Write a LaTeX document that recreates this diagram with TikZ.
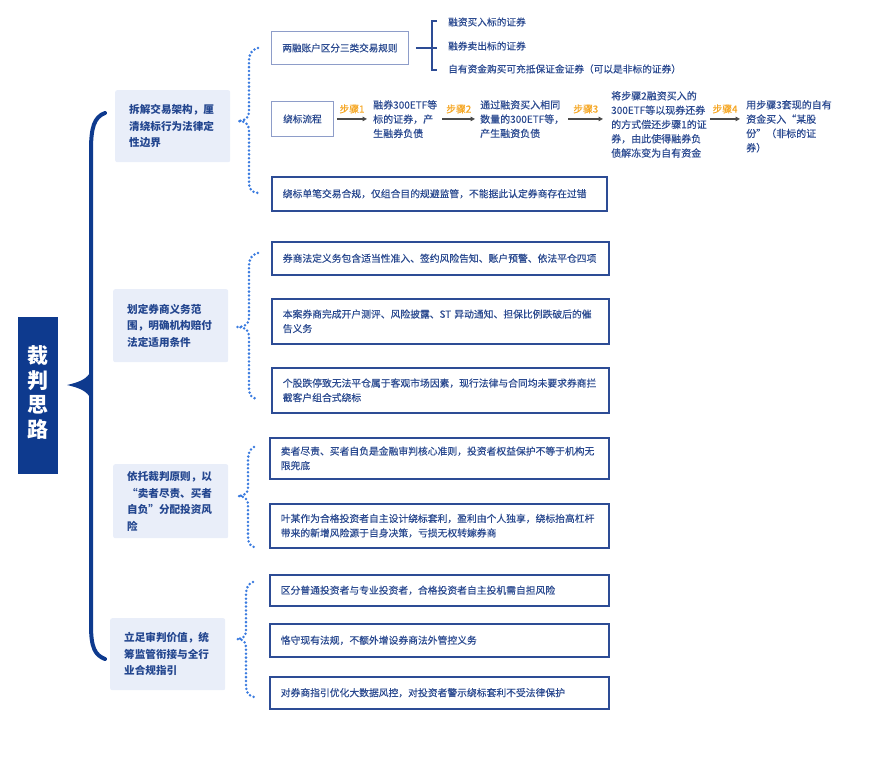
\documentclass[tikz,border=0pt]{standalone}
\usepackage{fontspec}
\setmainfont{Noto Sans CJK SC}
\newfontfamily\medfont{Noto Sans CJK SC}[FakeBold=0.35]
\usetikzlibrary{arrows.meta}
\definecolor{navy}{HTML}{0E3A8E}
\definecolor{lvlfill}{HTML}{E9EEF9}
\definecolor{lvltext}{HTML}{23468F}
\definecolor{boxline}{HTML}{2D4C95}
\definecolor{boxtext}{HTML}{2B4A90}
\definecolor{lightline}{HTML}{8E9DC9}
\definecolor{dotblue}{HTML}{3A7BDF}
\definecolor{steporange}{HTML}{F5A623}
\definecolor{arrowgray}{HTML}{4A4A4A}
\begin{document}
\begin{tikzpicture}[x=1pt,y=-1pt,
  rootbox/.style={fill=navy, text=white, font=\fontsize{21}{23}\selectfont\bfseries, align=center, minimum width=40, minimum height=157, inner sep=0},
  lvlone/.style={fill=lvlfill, rounded corners=2, text=lvltext, font=\fontsize{10.6}{16.5}\selectfont\bfseries, align=left, text width=87, minimum width=115, inner xsep=14, inner ysep=0, anchor=north west},
  darkbox/.style={draw=boxline, line width=1.6, fill=white, text=boxtext, font=\medfont\fontsize{9.8}{14.5}\selectfont, align=left, inner xsep=11, inner ysep=0, anchor=north west},
  lightbox/.style={draw=lightline, line width=0.9, fill=white, text=boxtext, font=\medfont\fontsize{9.6}{14}\selectfont, align=center, inner sep=0, anchor=north west},
  steptext/.style={text=boxtext, font=\medfont\fontsize{10}{14.3}\selectfont, align=left, inner sep=0, anchor=north west},
  itemtext/.style={text=boxtext, font=\medfont\fontsize{9.7}{12}\selectfont, inner sep=0, anchor=west},
  steparrow/.style={draw=arrowgray, line width=1.2, -{Triangle[length=4.5pt,width=4.5pt]}},
  steplabel/.style={text=steporange, font=\medfont\fontsize{9.8}{11}\selectfont, inner sep=2, above, yshift=3},
  bigbrace/.style={draw=navy, line width=4, line cap=round},
  dotbrace/.style={draw=dotblue, line width=2.8, line cap=round, dash pattern=on 0pt off 3.9pt},
  subbracket/.style={draw=boxline, line width=1.5}
]
\useasboundingbox (0,0) rectangle (874,760);

% root
\node[rootbox] (root) at (38,395) {\raisebox{5pt}{\begin{tabular}{@{}c@{}}裁\\判\\思\\路\end{tabular}}};

% big brace
\coordinate (tip) at (67,385);
\draw[bigbrace] (105,113) .. controls (94,117) and (91,128) .. (91,150) -- (91,625) .. controls (91,648) and (95,655) .. (105,659);
\fill[navy] (tip) .. controls (80,382) and (87,379) .. (91,371) -- (91,399) .. controls (87,391) and (80,388) .. (tip) -- cycle;

% level one
\node[lvlone, minimum height=72] (L1) at (115,90) {拆解交易架构，厘\\清绕标行为法律定\\性边界};
\node[lvlone, minimum height=73] (L2) at (113,289) {划定券商义务范\\围，明确机构赔付\\法定适用条件};
\node[lvlone, minimum height=74] (L3) at (113,464) {依托裁判原则，以\\“卖者尽责、买者\\自负”分配投资风\\险};
\node[lvlone, minimum height=72] (L4) at (110,618) {立足审判价值，统\\筹监管衔接与全行\\业合规指引};

% group 1
\node[lightbox, minimum width=137, minimum height=33] (rule) at (271,31) {两融账户区分三类交易规则};
\node[itemtext] (i1) at (448,22) {融资买入标的证券};
\node[itemtext] (i2) at (448,46) {融券卖出标的证券};
\node[itemtext] (i3) at (448,69) {自有资金购买可充抵保证金证券（可以是非标的证券）};
\draw[subbracket] ([xshift=7]rule.east) -- ([xshift=-11]i2.west |- rule.east);
\draw[subbracket] ([xshift=-11,yshift=1]i1.west) -- ([xshift=-16,yshift=1]i1.west) -- ([xshift=-16,yshift=-1]i3.west) -- ([xshift=-11,yshift=-1]i3.west);

\node[lightbox, minimum width=62, minimum height=35] (flow) at (271,101) {绕标流程};
\node[steptext] (t1) at (373,100) {融券300ETF等\\标的证券，产\\生融券负债};
\node[steptext] (t2) at (480,100) {通过融资买入相同\\数量的300ETF等，\\产生融资负债};
\node[steptext] (t3) at (611,91) {将步骤2融资买入的\\300ETF等以现券还券\\的方式偿还步骤1的证\\券，由此使得融券负\\债解冻变为自有资金};
\node[steptext] (t4) at (746,100) {用步骤3套现的自有\\资金买入“某股\\份”（非标的证\\券）};
\draw[steparrow] ([xshift=3]flow.east) -- ([xshift=-6]t1.west |- flow.east) node[steplabel, midway] {步骤1};
\draw[steparrow] ([xshift=5]t1.east |- flow.east) -- ([xshift=-5]t2.west |- flow.east) node[steplabel, midway] {步骤2};
\draw[steparrow] ([xshift=4]t2.east |- flow.east) -- ([xshift=-8]t3.west |- flow.east) node[steplabel, midway] {步骤3};
\draw[steparrow] ([xshift=3]t3.east |- flow.east) -- ([xshift=-6]t4.west |- flow.east) node[steplabel, midway] {步骤4};

\node[darkbox, minimum width=335, minimum height=34, text width=313] (g1c) at (271,176) {绕标单笔交易合规，仅组合目的规避监管，不能据此认定券商存在过错};

% group 2
\node[darkbox, minimum width=337, minimum height=33, text width=315] (g2a) at (271,241) {券商法定义务包含适当性准入、签约风险告知、账户预警、依法平仓四项};
\node[darkbox, minimum width=337, minimum height=45, text width=315] (g2b) at (271,298) {本案券商完成开户测评、风险披露、ST 异动通知、担保比例跌破后的催\\告义务};
\node[darkbox, minimum width=337, minimum height=45, text width=315] (g2c) at (271,367) {个股跌停致无法平仓属于客观市场因素，现行法律与合同均未要求券商拦\\截客户组合式绕标};

% group 3
\node[darkbox, minimum width=339, minimum height=41, text width=317] (g3a) at (269,437) {卖者尽责、买者自负是金融审判核心准则，投资者权益保护不等于机构无\\限兜底};
\node[darkbox, minimum width=339, minimum height=44, text width=317] (g3b) at (269,503) {叶某作为合格投资者自主设计绕标套利，盈利由个人独享，绕标抬高杠杆\\带来的新增风险源于自身决策，亏损无权转嫁券商};

% group 4
\node[darkbox, minimum width=339, minimum height=31, text width=317] (g4a) at (269,574) {区分普通投资者与专业投资者，合格投资者自主投机需自担风险};
\node[darkbox, minimum width=339, minimum height=33, text width=317] (g4b) at (269,623) {恪守现有法规，不额外增设券商法外管控义务};
\node[darkbox, minimum width=339, minimum height=32, text width=317] (g4c) at (269,676) {对券商指引优化大数据风控，对投资者警示绕标套利不受法律保护};

% dotted braces
\draw[dotbrace] (258,48) .. controls (251,50) and (249,54) .. (249,62) -- (249,112) .. controls (249,118) and (245,121) .. (238,121)
  .. controls (245,121) and (249,124) .. (249,130) -- (249,181) .. controls (249,189) and (251,192) .. (258,193);
\draw[dotbrace] (258,253) .. controls (251,255) and (249,259) .. (249,267) -- (249,318) .. controls (249,324) and (245,327) .. (237,327)
  .. controls (245,327) and (249,330) .. (249,336) -- (249,387) .. controls (249,395) and (251,398) .. (258,399);
\draw[dotbrace] (254,447) .. controls (250,449) and (248,453) .. (248,460) -- (248,488) .. controls (248,493) and (244,496) .. (238,496)
  .. controls (244,496) and (248,499) .. (248,504) -- (248,536) .. controls (248,543) and (250,546) .. (254,547);
\draw[dotbrace] (253,582) .. controls (248,584) and (246,588) .. (246,595) -- (246,631) .. controls (246,636) and (243,639) .. (237,639)
  .. controls (243,639) and (246,642) .. (246,647) -- (246,686) .. controls (246,693) and (249,696) .. (254,697);
\end{tikzpicture}
\end{document}
